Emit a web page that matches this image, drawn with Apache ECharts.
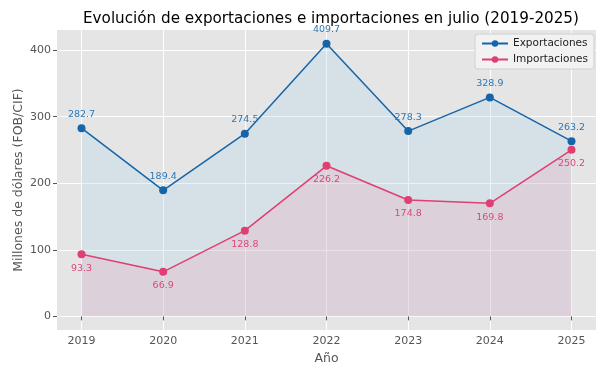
<!DOCTYPE html>
<html>
<head>
<meta charset="utf-8">
<script src="https://cdn.jsdelivr.net/npm/echarts@6/dist/echarts.min.js"></script>
<style>html,body{margin:0;padding:0;background:#fff;}#c{width:604px;height:378px;}</style>
</head>
<body>
<div id="c"></div>
<script>
const years = [2019, 2020, 2021, 2022, 2023, 2024, 2025];
const exportaciones = [282.7, 189.4, 274.5, 409.7, 278.3, 328.9, 263.2];
const importaciones = [93.3, 66.9, 128.8, 226.2, 174.8, 169.8, 250.2];
const yTicks = [0, 100, 200, 300, 400];

const blue = '#1565a8';
const pink = '#df3f72';
const font = 'DejaVu Sans';

const chart = echarts.init(document.getElementById('c'), null, {renderer: 'canvas'});
chart.setOption({
  animation: false,
  backgroundColor: '#ffffff',
  title: {
    text: 'Evolución de exportaciones e importaciones en julio (2019-2025)',
    left: 78, top: 7,
    textStyle: {fontFamily: font, fontSize: 15.2, fontWeight: 'normal', color: '#000'}
  },
  legend: {
    top: 34, right: 10, orient: 'vertical', itemGap: 5,
    itemWidth: 26, itemHeight: 8,
    backgroundColor: 'rgba(242,242,242,0.95)', borderColor: '#d0d0d0', borderWidth: 1, borderRadius: 3,
    padding: [4, 6, 4, 6],
    textStyle: {fontFamily: font, fontSize: 10.5, color: '#222'},
    data: ['Exportaciones', 'Importaciones']
  },
  grid: {left: 57, right: 8, top: 30, bottom: 48, backgroundColor: '#e5e5e5', show: true, borderWidth: 0,
    containLabel: false, outerBoundsMode: 'none'},
  xAxis: {
    type: 'value', min: 2018.7, max: 2025.3, splitNumber: 7,
    name: 'Año', nameLocation: 'middle', nameGap: 22,
    nameTextStyle: {fontFamily: font, fontSize: 12.5, color: '#555'},
    axisLine: {show: false},
    axisTick: {show: true, length: 4, lineStyle: {color: '#555'}, customValues: years},
    axisLabel: {fontFamily: font, fontSize: 11, color: '#555', margin: 6, customValues: years,
      formatter: v => String(Math.round(v))},
    splitLine: {show: true, lineStyle: {color: '#ffffff', width: 1}}
  },
  yAxis: {
    type: 'value', min: -20.485, max: 430.2,
    name: 'Millones de dólares (FOB/CIF)', nameLocation: 'middle', nameGap: 32, nameMoveOverlap: false,
    nameTextStyle: {fontFamily: font, fontSize: 12.5, color: '#555'},
    axisLine: {show: false},
    axisTick: {show: true, length: 4, lineStyle: {color: '#555'}, customValues: yTicks},
    axisLabel: {fontFamily: font, fontSize: 11, color: '#555', margin: 6, customValues: yTicks},
    splitLine: {show: true, lineStyle: {color: '#ffffff', width: 1}}
  },
  series: [
    {
      name: 'Exportaciones', type: 'line',
      data: years.map((y, i) => [y, exportaciones[i]]),
      color: blue,
      symbol: 'circle', symbolSize: 8,
      lineStyle: {width: 1.5, color: blue},
      itemStyle: {color: blue},
      areaStyle: {color: 'rgba(174,214,232,0.4)', origin: 0},
      label: {show: true, position: 'top', distance: 5, fontFamily: font, fontSize: 9.5, color: '#2a78b8',
        formatter: p => p.value[1].toFixed(1)},
      z: 3
    },
    {
      name: 'Importaciones', type: 'line',
      data: years.map((y, i) => [y, importaciones[i]]),
      color: pink,
      symbol: 'circle', symbolSize: 8,
      lineStyle: {width: 1.5, color: pink},
      itemStyle: {color: pink},
      areaStyle: {color: 'rgba(246,153,173,0.3)', origin: 0},
      label: {show: true, position: 'bottom', distance: 5, fontFamily: font, fontSize: 9.5, color: '#d84a7a',
        formatter: p => p.value[1].toFixed(1)},
      z: 4
    }
  ]
});
</script>
</body>
</html>
